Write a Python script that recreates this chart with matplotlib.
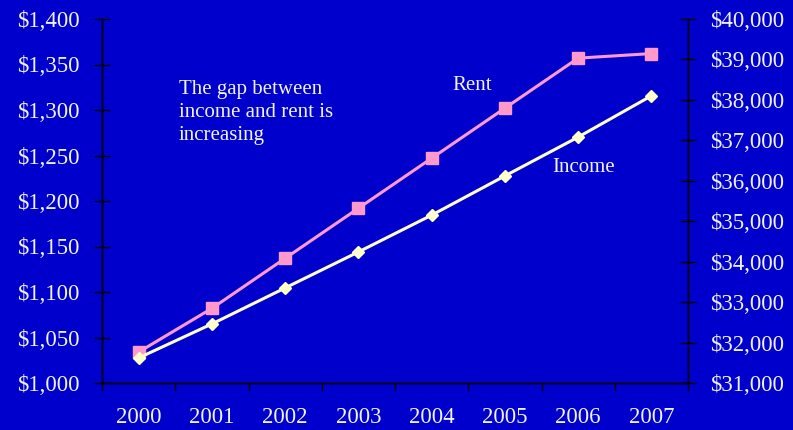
import matplotlib.pyplot as plt
from matplotlib.ticker import FuncFormatter

years = ['2000', '2001', '2002', '2003', '2004', '2005', '2006', '2007']
rent = [1034, 1082, 1137, 1192, 1247, 1302, 1357, 1362]
income = [31620, 32460, 33350, 34240, 35150, 36120, 37080, 38100]

bg = '#0000CC'
txt = '#F2F2F2'
plt.rcParams['font.family'] = ['Liberation Serif', 'DejaVu Serif']

fig = plt.figure(figsize=(7.93, 4.30), dpi=100, facecolor=bg)
ax = fig.add_axes([102 / 793, 47 / 430, 586 / 793, 364 / 430])
ax.set_facecolor(bg)
ax2 = ax.twinx()

x = list(range(len(years)))
ax.plot(x, rent, color='#FF99CC', lw=2.2, marker='s', ms=8.5, zorder=3)
ax2.plot(x, income, color='#FFFFCC', lw=2.2, marker='D', ms=6, zorder=3)

ax.set_xlim(-0.5, 7.5)
ax.set_ylim(1000, 1400)
ax2.set_ylim(31000, 40000)
ax.set_yticks(range(1000, 1401, 50))
ax2.set_yticks(range(31000, 40001, 1000))
ax.yaxis.set_major_formatter(FuncFormatter(lambda v, p: '${:,.0f}'.format(v)))
ax2.yaxis.set_major_formatter(FuncFormatter(lambda v, p: '${:,.0f}'.format(v)))

# ticks sit between categories, labels sit on them
ax.set_xticks([i - 0.5 for i in range(9)])
ax.set_xticklabels([])
ax.set_xticks(x, minor=True)
ax.set_xticklabels(years, minor=True)
ax.tick_params(axis='x', which='major', direction='out', length=6, width=1, color='black')
ax.tick_params(axis='x', which='minor', length=0, pad=17, labelsize=16.5, labelcolor=txt)
ax.tick_params(axis='y', direction='inout', length=12, width=1, color='black',
               labelsize=16.5, labelcolor=txt, pad=10)
ax2.tick_params(axis='y', direction='inout', length=12, width=1, color='black',
                labelsize=16.5, labelcolor=txt, pad=10)

for a in (ax, ax2):
    a.spines['top'].set_visible(False)
    for s in ('left', 'right', 'bottom'):
        a.spines[s].set_color('black')
        a.spines[s].set_linewidth(1)

ax.text(179, 350, 'The gap between\nincome and rent is\nincreasing', transform=None,
        color=txt, fontsize=15, va='top', ha='left', linespacing=1.28)
ax.text(452, 344, 'Rent', transform=None, color=txt, fontsize=15, va='center')
ax.text(552, 263, 'Income', transform=None, color=txt, fontsize=15, va='center')

fig.savefig('out.png', dpi=100, facecolor=bg)
